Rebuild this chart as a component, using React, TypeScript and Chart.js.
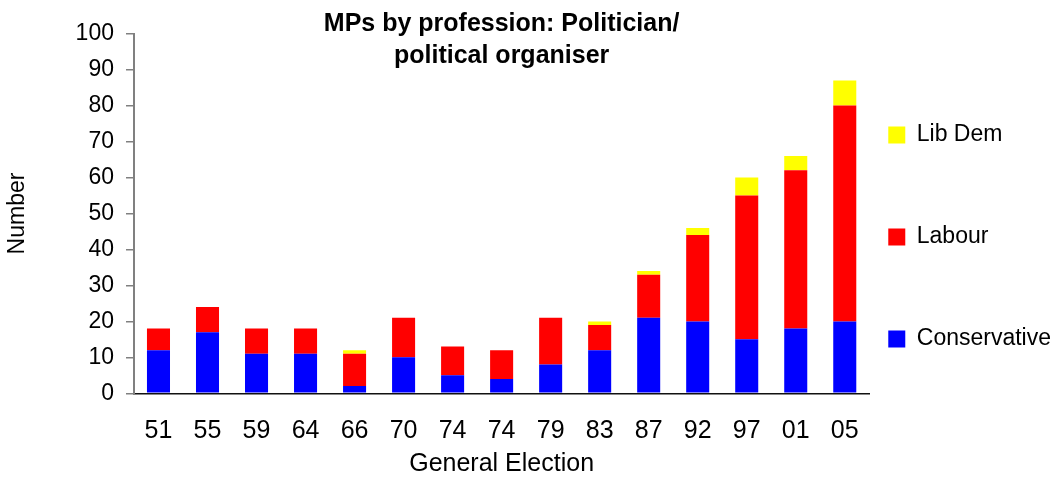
import React, { useEffect, useRef } from "react";
import { Chart, registerables } from "chart.js";

Chart.register(...registerables);

const elections = ["51", "55", "59", "64", "66", "70", "74", "74", "79", "83", "87", "92", "97", "01", "05"];
const conservative = [12, 17, 11, 11, 2, 10, 5, 4, 8, 12, 21, 20, 15, 18, 20];
const labour = [6, 7, 7, 7, 9, 11, 8, 8, 13, 7, 12, 24, 40, 44, 60];
const libDem = [0, 0, 0, 0, 1, 0, 0, 0, 0, 1, 1, 2, 5, 4, 7];
const titleLines = ["MPs by profession: Politician/", "political organiser"];
const yTitle = "Number";
const xTitle = "General Election";

const FONT = "'Liberation Sans', Arial, sans-serif";

export default function App() {
  const ref = useRef<HTMLCanvasElement | null>(null);

  useEffect(() => {
    document.body.style.margin = "0";
    const canvas = ref.current;
    if (!canvas) return;
    Chart.defaults.font.family = FONT;
    Chart.defaults.color = "#000";
    const chart = new Chart(canvas, {
      type: "bar",
      data: {
        labels: elections,
        datasets: [
          { label: "Conservative", data: conservative, backgroundColor: "#0000FF", borderWidth: 0 },
          { label: "Labour", data: labour, backgroundColor: "#FF0000", borderWidth: 0 },
          { label: "Lib Dem", data: libDem, backgroundColor: "#FFFF00", borderWidth: 0 },
        ],
      },
      options: {
        responsive: false,
        animation: false,
        devicePixelRatio: 1,
        layout: { padding: { left: 0, right: 0, top: 0, bottom: 0 } },
        datasets: { bar: { barPercentage: 0.47, categoryPercentage: 1 } },
        scales: {
          x: {
            stacked: true,
            grid: { display: false, drawTicks: false },
            border: { display: true, color: "#111", width: 1.5 },
            ticks: {
              autoSkip: false,
              maxRotation: 0,
              padding: 22.7,
              color: "#000",
              font: { size: 25, family: FONT },
            },
            title: {
              display: true,
              text: xTitle,
              color: "#000",
              font: { size: 25, family: FONT },
              padding: { top: -19.2, bottom: 0.5 },
            },
          },
          y: {
            stacked: true,
            min: 0,
            max: 100,
            ticks: {
              stepSize: 10,
              padding: 12,
              color: "#000",
              font: { size: 23, family: FONT },
            },
            grid: {
              display: true,
              drawOnChartArea: false,
              drawTicks: true,
              tickLength: 8,
              color: "#808080",
              lineWidth: 1.5,
            },
            border: { display: true, color: "#808080", width: 2 },
            title: {
              display: true,
              text: yTitle,
              color: "#000",
              font: { size: 23, family: FONT },
              padding: { top: 4.2, bottom: 31.8 },
            },
          },
        },
        plugins: {
          tooltip: { enabled: false },
          title: {
            display: true,
            fullSize: false,
            text: titleLines,
            color: "#000",
            font: { size: 25, weight: "bold", family: FONT, lineHeight: "32px" },
            padding: { top: 8, bottom: -38.3 },
          },
          legend: {
            display: true,
            position: "right",
            align: "center",
            reverse: true,
            title: { display: true, text: "", font: { size: 10 }, padding: { top: 42, bottom: 0 } },
            labels: {
              boxWidth: 17,
              boxHeight: 17,
              padding: 19,
              color: "#000",
              font: { size: 23, family: FONT, lineHeight: "83px" },
              generateLabels: (c: any) =>
                Chart.defaults.plugins.legend.labels
                  .generateLabels(c)
                  .map((l: any) => ({ ...l, text: [l.text] })),
            },
          },
        },
      },
    });
    return () => chart.destroy();
  }, []);

  return (
    <div style={{ width: 1061, height: 480 }}>
      <canvas ref={ref} width={1061} height={480} style={{ display: "block" }} />
    </div>
  );
}
